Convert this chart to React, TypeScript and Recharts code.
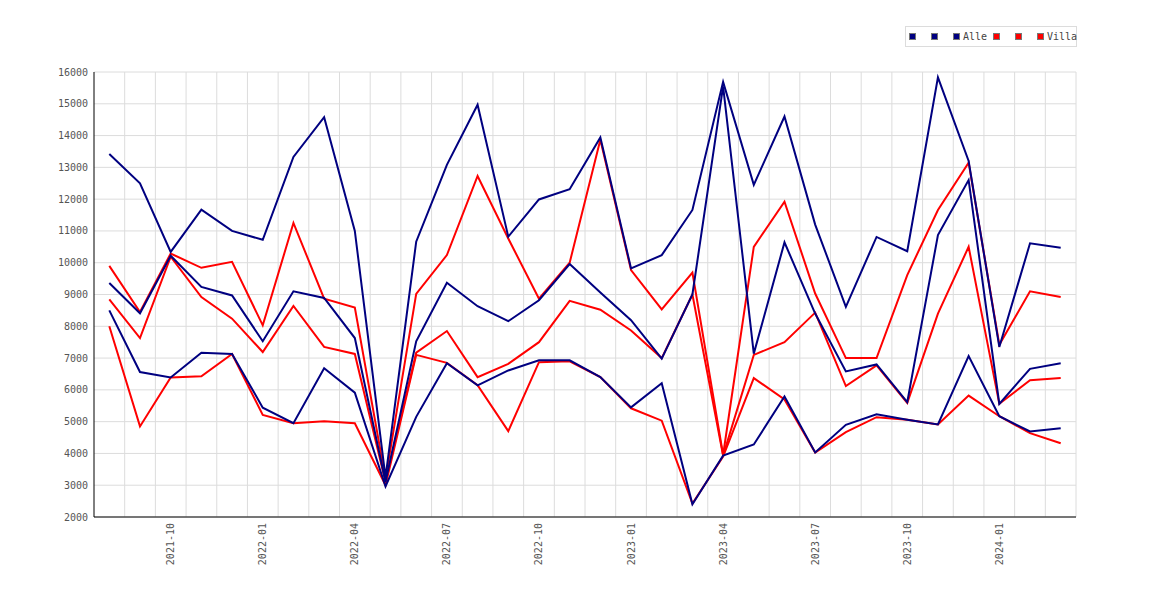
import { LineChart, Line, XAxis, YAxis, CartesianGrid, Legend } from 'recharts';

const months = [
  '2021-08', '2021-09', '2021-10', '2021-11', '2021-12', '2022-01', '2022-02', '2022-03',
  '2022-04', '2022-05', '2022-06', '2022-07', '2022-08', '2022-09', '2022-10', '2022-11',
  '2022-12', '2023-01', '2023-02', '2023-03', '2023-04', '2023-05', '2023-06', '2023-07',
  '2023-08', '2023-09', '2023-10', '2023-11', '2023-12', '2024-01', '2024-02', '2024-03',
];

const tickLabels = ['2021-10', '2022-01', '2022-04', '2022-07', '2022-10', '2023-01', '2023-04', '2023-07', '2023-10', '2024-01'];
const yTicks = [2000, 3000, 4000, 5000, 6000, 7000, 8000, 9000, 10000, 11000, 12000, 13000, 14000, 15000, 16000];

const alleHigh = [
  13420, 12500, 10340, 11670, 11000, 10720, 13330, 14580, 11000, 3250, 10660, 13080, 14970, 10820, 11990, 12310,
  13940, 9820, 10240, 11660, 15690, 12450, 14600, 11200, 8610, 10810, 10360, 15830, 13200, 7350, 10610, 10470,
];
const alleMid = [
  9360, 8410, 10220, 9240, 8970, 7530, 9100, 8890, 7630, 3100, 7530, 9370, 8630, 8160, 8820, 9960,
  9060, 8190, 6980, 9000, 15550, 7140, 10640, 8400, 6580, 6800, 5610, 10870, 12600, 5560, 6660, 6840,
];
const alleLow = [
  8500, 6560, 6390, 7170, 7130, 5440, 4950, 6680, 5910, 2960, 5150, 6840, 6140, 6610, 6930, 6930,
  6400, 5450, 6210, 2400, 3930, 4280, 5790, 4030, 4900, 5230, 5060, 4910, 7060, 5170, 4690, 4790,
];
const villaHigh = [
  9900, 8450, 10290, 9840, 10030, 8030, 11250, 8870, 8590, 3200, 9020, 10240, 12730, 10760, 8870, 10000,
  13870, 9770, 8530, 9690, 3950, 10500, 11920, 9030, 7000, 7000, 9610, 11660, 13150, 7420, 9100, 8920,
];
const villaMid = [
  8850, 7630, 10190, 8920, 8240, 7190, 8640, 7350, 7130, 3100, 7170, 7850, 6400, 6820, 7500, 8800,
  8520, 7870, 7000, 9000, 3930, 7100, 7500, 8430, 6120, 6770, 5590, 8400, 10500, 5560, 6300, 6370,
];
const villaLow = [
  8000, 4850, 6390, 6430, 7130, 5210, 4950, 5010, 4950, 3000, 7100, 6850, 6150, 4700, 6870, 6900,
  6400, 5420, 5030, 2420, 3900, 6370, 5700, 4030, 4670, 5140, 5060, 4910, 5820, 5170, 4640, 4320,
];

const NAVY = '#000080';
const RED = '#ff0000';

const legendItems = [
  { color: NAVY, label: '' },
  { color: NAVY, label: '' },
  { color: NAVY, label: 'Alle' },
  { color: RED, label: '' },
  { color: RED, label: '' },
  { color: RED, label: 'Villa' },
];
// left edge of each legend swatch inside the box
const legendSlots = [3, 25, 47, 87, 109, 131];

const data = months.map((m, i) => ({
  month: m,
  alleHigh: alleHigh[i],
  alleMid: alleMid[i],
  alleLow: alleLow[i],
  villaHigh: villaHigh[i],
  villaMid: villaMid[i],
  villaLow: villaLow[i],
}));

const FONT = '"DejaVu Sans Mono", monospace';

function MonthTick({ x, y, payload }: any) {
  return (
    <text
      x={x}
      y={y}
      dy="0.35em"
      transform={`rotate(-90, ${x}, ${y})`}
      textAnchor="end"
      fill="#555"
      fontSize={10}
      fontFamily={FONT}
    >
      {payload.value}
    </text>
  );
}

function LegendBox() {
  return (
    <div
      style={{
        position: 'relative',
        boxSizing: 'border-box',
        width: 172,
        height: 21,
        border: '1px solid #dcdcdc',
        fontFamily: FONT,
        fontSize: 10,
        lineHeight: '19px',
        color: '#444',
        background: '#fff',
      }}
    >
      {legendItems.map((it, i) => (
        <div key={i} style={{ position: 'absolute', left: legendSlots[i], top: 0, height: 19, display: 'flex', alignItems: 'center' }}>
          <span
            style={{
              display: 'inline-block',
              boxSizing: 'border-box',
              width: 7,
              height: 7,
              background: it.color,
              border: '1px solid #777',
            }}
          />
          {it.label && <span style={{ marginLeft: 3 }}>{it.label}</span>}
        </div>
      ))}
    </div>
  );
}

export default function App() {
  return (
    <div style={{ width: 1170, height: 600, background: '#fff' }}>
      <style>{'body{margin:0}'}</style>
      <LineChart width={1170} height={600} data={data} margin={{ top: 72, right: 94, bottom: 23, left: 34 }}>
        <CartesianGrid
          stroke="#dcdcdc"
          strokeWidth={1}
          verticalCoordinatesGenerator={({ offset }: any) =>
            months.map((_, k) => offset.left + (offset.width * (k + 1)) / months.length)
          }
        />
        <XAxis
          dataKey="month"
          ticks={tickLabels}
          interval={0}
          padding={{ left: 15.3, right: 15.3 }}
          height={60}
          stroke="#000"
          tickLine={false}
          tickSize={0}
          tickMargin={6}
          axisLine={{ stroke: '#000', strokeWidth: 1 }}
          tick={<MonthTick />}
        />
        <YAxis
          type="number"
          domain={[2000, 16000]}
          ticks={yTicks}
          interval={0}
          width={60}
          stroke="#000"
          tickLine={false}
          tickSize={0}
          tickMargin={6}
          axisLine={{ stroke: '#000', strokeWidth: 1 }}
          tick={{ fill: '#555', fontSize: 10, fontFamily: FONT }}
        />
        <Legend
          layout="vertical"
          align="center"
          verticalAlign="middle"
          wrapperStyle={{ position: 'absolute', left: 905, top: 26, width: 172, height: 21 }}
          content={() => <LegendBox />}
        />
        <Line type="linear" dataKey="villaLow" stroke={RED} strokeWidth={2} dot={false} isAnimationActive={false} />
        <Line type="linear" dataKey="villaMid" stroke={RED} strokeWidth={2} dot={false} isAnimationActive={false} />
        <Line type="linear" dataKey="villaHigh" stroke={RED} strokeWidth={2} dot={false} isAnimationActive={false} />
        <Line type="linear" dataKey="alleLow" stroke={NAVY} strokeWidth={2} dot={false} isAnimationActive={false} />
        <Line type="linear" dataKey="alleMid" stroke={NAVY} strokeWidth={2} dot={false} isAnimationActive={false} />
        <Line type="linear" dataKey="alleHigh" stroke={NAVY} strokeWidth={2} dot={false} isAnimationActive={false} />
      </LineChart>
    </div>
  );
}
